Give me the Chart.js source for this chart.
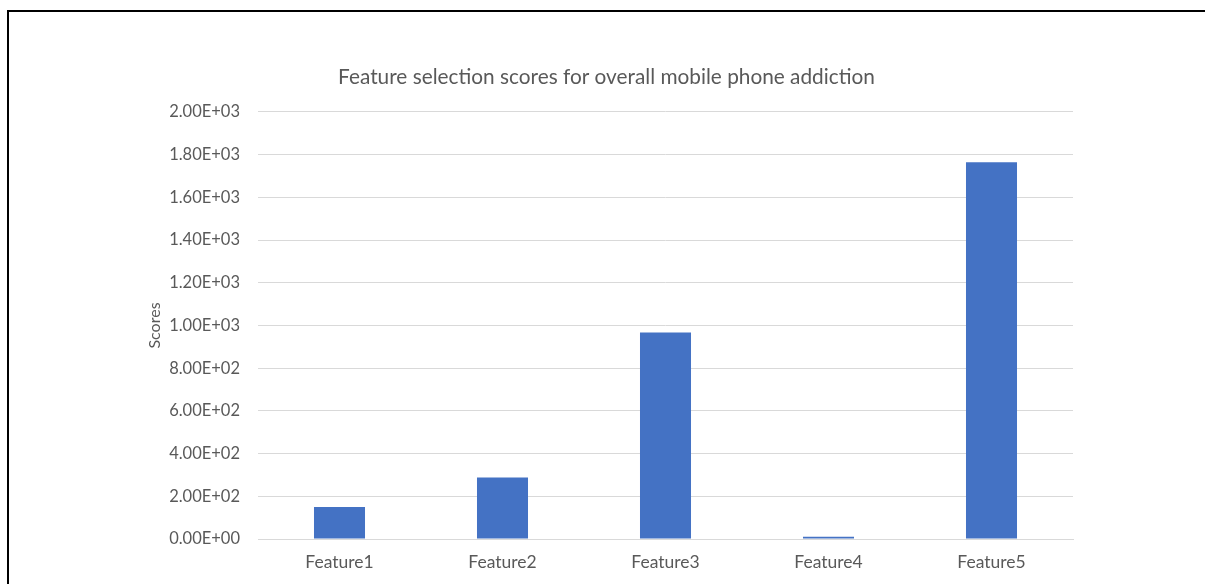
<!DOCTYPE html>
<html>
<head>
<meta charset="utf-8">
<script src="https://cdn.jsdelivr.net/npm/chart.js@4.4.0/dist/chart.umd.min.js"></script>
<style>
  html, body { margin: 0; padding: 0; background: #fff; }
  #wrap { position: relative; width: 1205px; height: 584px; overflow: hidden; }
  #frame { position: absolute; left: 7px; top: 10px; width: 1300px; height: 700px;
           border-top: 2px solid #000; border-left: 2px solid #000; }
  canvas { position: absolute; left: 0; top: 0; }
</style>
</head>
<body>
<div id="wrap">
  <div id="frame"></div>
  <canvas id="scoreChart" width="1205" height="584"></canvas>
</div>
<script>
// --- Chart data ---
const features = ['Feature1', 'Feature2', 'Feature3', 'Feature4', 'Feature5'];
const scores = [150, 288, 967, 10, 1764];
const yTicks = [0, 200, 400, 600, 800, 1000, 1200, 1400, 1600, 1800, 2000];

const textColor = '#595959';
const gridColor = '#d9d9d9';
const fontFamily = 'Lato, "Open Sans", sans-serif';

// Excel-style scientific labels, e.g. 2.00E+03
function sci(v) {
    if (v === 0) return '0.00E+00';
    const exp = Math.floor(Math.log10(Math.abs(v)));
    const mant = v / Math.pow(10, exp);
    const sign = exp < 0 ? '-' : '+';
    return mant.toFixed(2) + 'E' + sign + String(Math.abs(exp)).padStart(2, '0');
}

const ctx = document.getElementById('scoreChart').getContext('2d');
new Chart(ctx, {
    type: 'bar',
    data: {
        labels: features,
        datasets: [{
            label: 'Scores',
            data: scores,
            backgroundColor: '#4472C4',
            borderWidth: 0,
            categoryPercentage: 1,
            barPercentage: 0.313
        }]
    },
    options: {
        responsive: false,
        animation: false,
        layout: { padding: { left: 140, right: 132, top: 0, bottom: 0 } },
        scales: {
            x: {
                afterFit: (scale) => { scale.height = 45; },
                grid: { display: false, drawTicks: false },
                border: { color: gridColor },
                ticks: { color: textColor, padding: 13, font: { family: fontFamily, size: 17.5 } }
            },
            y: {
                min: 0,
                max: 2000,
                afterBuildTicks: (scale) => { scale.ticks = yTicks.map(v => ({ value: v })); },
                afterFit: (scale) => { scale.width = 118; },
                grid: { color: gridColor, drawTicks: false },
                border: { display: false },
                ticks: {
                    color: textColor,
                    padding: 18,
                    font: { family: fontFamily, size: 16.5 },
                    callback: (v) => sci(v)
                },
                title: {
                    display: true,
                    text: 'Scores',
                    color: textColor,
                    padding: { top: 5, bottom: 0 },
                    font: { family: fontFamily, size: 16 }
                }
            }
        },
        plugins: {
            legend: { display: false },
            tooltip: { enabled: false },
            title: {
                display: true,
                text: 'Feature selection scores for overall mobile phone addiction',
                color: textColor,
                font: { family: fontFamily, size: 20.8, weight: 'normal' },
                padding: { top: 65, bottom: 22 }
            }
        }
    }
});
</script>
</body>
</html>
